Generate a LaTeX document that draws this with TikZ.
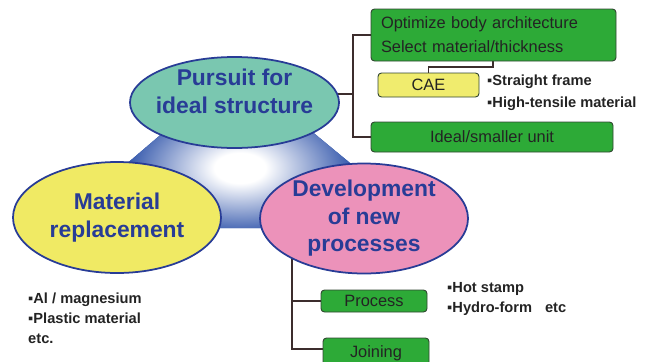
\documentclass[tikz,border=0pt]{standalone}
\usepackage{fontspec}
\setmainfont{Liberation Sans}
\usetikzlibrary{shapes.geometric,backgrounds}

\definecolor{goalline}{RGB}{40,60,150}
\definecolor{goalteal}{RGB}{122,199,176}
\definecolor{matyellow}{RGB}{240,234,100}
\definecolor{devpink}{RGB}{236,146,186}
\definecolor{boxgreen}{RGB}{45,170,55}
\definecolor{boxline}{RGB}{50,70,50}
\definecolor{caeyellow}{RGB}{240,236,110}
\definecolor{linkbrown}{RGB}{60,45,45}
\definecolor{triblue}{RGB}{28,68,162}
\definecolor{boxtext}{RGB}{35,35,35}

\pgfdeclareradialshading{triglow}{\pgfpoint{0bp}{0bp}}{color(0bp)=(white); color(5bp)=(white); color(24bp)=(triblue); color(50bp)=(triblue)}

\begin{document}
\begin{tikzpicture}[
    x=0.03cm, y=-0.03cm,
    every node/.style={font=\fontsize{14}{17}\selectfont, text=boxtext},
    goaltext/.style={align=center, inner sep=0pt, text=goalline, font=\fontsize{19.5}{23.5}\selectfont\bfseries},
    goal/.style={ellipse, draw=goalline, line width=1.5pt, goaltext},
    item/.style={rectangle, rounded corners=3pt, draw=boxline, line width=0.8pt, fill=boxgreen, inner sep=0pt},
    cae/.style={item, fill=caeyellow},
    bullets/.style={anchor=west, align=left, inner sep=0pt, font=\fontsize{12.5}{18.5}\selectfont\bfseries},
    link/.style={draw=linkbrown, line width=0.9pt}
]
\useasboundingbox (0,0) rectangle (654,361);
\clip (0,0) rectangle (654,361);

% Three goals
\node[goal, fill=goalteal, minimum width=6.27cm, minimum height=2.73cm,
      label={[goaltext, yshift=0.33cm]center:{Pursuit for\\ideal structure}}] (pursuit) at (234.5,102.5) {};
\node[goal, fill=matyellow, minimum width=6.24cm, minimum height=3.33cm] (material) at (117,217.5) {Material\\replacement};
\node[goal, fill=devpink, minimum width=6.24cm, minimum height=3.3cm] (develop) at (364,218.5) {Development\\of new\\processes};

% Boxes for the structure goal
\node[item, minimum width=7.35cm, minimum height=1.56cm, text width=6.75cm, align=left, inner xsep=0.3cm,
      font=\fontsize{14}{20.5}\selectfont] (architecture) at (493.5,35) {Optimize body architecture\\Select material/thickness};
\node[cae, minimum width=3.03cm, minimum height=0.72cm] (cae) at (428.5,85) {CAE};
\node[item, minimum width=7.26cm, minimum height=0.9cm] (unit) at (492,137) {Ideal/smaller unit};

% Boxes for the process goal
\node[item, minimum width=3.18cm, minimum height=0.66cm] (process) at (374,301) {Process};
\node[item, minimum width=3.18cm, minimum height=0.9cm] (joining) at (376,353) {Joining};

% Bullet notes
\node[bullets] (frame-notes) at (487,93) {▪Straight frame\\▪High-tensile material};
\node[bullets, font=\fontsize{12.5}{17}\selectfont\bfseries] (stamp-notes) at (447,299) {▪Hot stamp\\▪Hydro-form\hspace{11pt}etc};
\node[bullets, font=\fontsize{12.5}{17}\selectfont\bfseries] (material-notes) at (28,318) {▪Al / magnesium\\▪Plastic material\\etc.};

\begin{scope}[on background layer]
% Shaded triangle behind the goals
\begin{scope}
\clip (172,125) -- (304,125) -- (390,196) -- (300,228) -- (180,228) -- (96,190) -- cycle;
\fill[triblue] (90,120) rectangle (395,232);
\shade[shading=triglow] (240,168) ellipse (128 and 76);
\end{scope}

% Links
\coordinate (ptrunk) at (353,94);
\draw[link] (pursuit.center |- ptrunk) -- (ptrunk);
\draw[link] (architecture.west) -| (ptrunk) |- (unit.west);
\coordinate (caedrop) at (493,67);
\draw[link] (caedrop |- architecture.south) -- (caedrop) -| (cae.north);
\coordinate (dtrunk) at (292,240);
\coordinate (jtap) at (292,349);
\draw[link] (dtrunk) -- (jtap) -- (jtap -| joining.west);
\draw[link] (dtrunk |- process.west) -- (process.west);
\end{scope}

\end{tikzpicture}
\end{document}
